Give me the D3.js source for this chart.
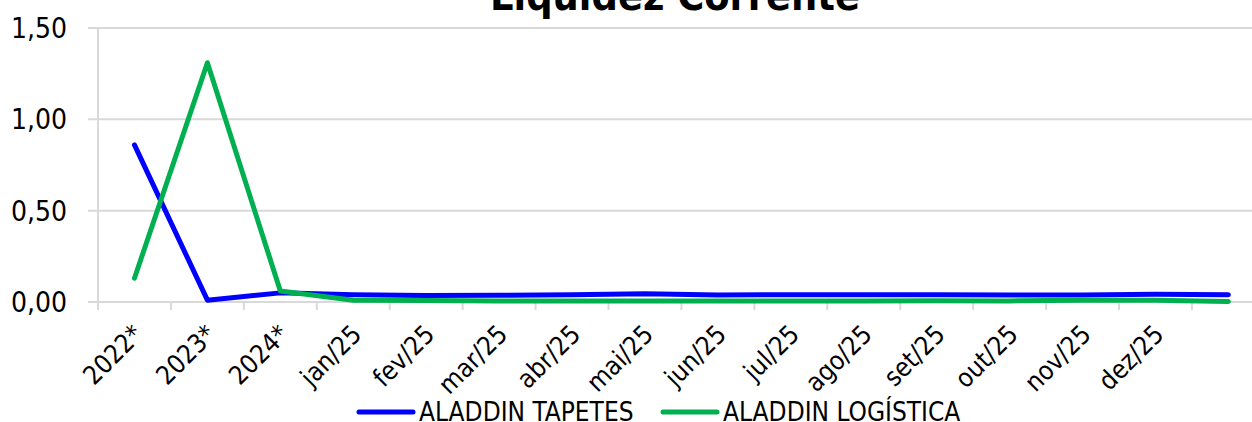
<!DOCTYPE html>
<html>
<head>
<meta charset="utf-8">
<script src="https://cdn.jsdelivr.net/npm/d3@7"></script>
<style>
  body { margin: 0; background: #fff; }
  svg { display: block; font-family: "DejaVu Sans Condensed", "DejaVu Sans", sans-serif; }
</style>
</head>
<body>
<div id="chart"></div>
<script>
// categories (the last one has no label)
const categories = ["2022*", "2023*", "2024*", "jan/25", "fev/25", "mar/25", "abr/25", "mai/25",
  "jun/25", "jul/25", "ago/25", "set/25", "out/25", "nov/25", "dez/25", ""];

// series values
const tapetes = [0.86, 0.01, 0.05, 0.04, 0.036, 0.037, 0.04, 0.045, 0.038, 0.04, 0.04, 0.04, 0.038, 0.038, 0.042, 0.04];
const logistica = [0.13, 1.31, 0.06, 0.01, 0.008, 0.006, 0.006, 0.006, 0.006, 0.006, 0.006, 0.007, 0.006, 0.01, 0.01, 0.003];

const seriesNames = ["ALADDIN TAPETES", "ALADDIN LOGÍSTICA"];
const seriesColors = ["#0000ff", "#00b050"];
const yTicks = [0, 0.5, 1.0, 1.5];

let w = 1252;
let h = 422;

let svg = d3.select("#chart").append("svg")
  .attr("width", w)
  .attr("height", h);

// scales
var x = d3.scaleBand()
  .domain(d3.range(categories.length))
  .range([98, 98 + 16 * 72.93])
  .padding(0);

var y = d3.scaleLinear()
  .domain([0, 1.5])
  .range([302, 28]);

// title (cut off at the top, like the original)
svg.append("text")
  .attr("x", 675)
  .attr("y", 10)
  .attr("text-anchor", "middle")
  .style("font-size", "41px")
  .style("font-weight", "bold")
  .text("Liquidez Corrente");

// horizontal gridlines + y labels
svg.append("g")
  .selectAll("line")
  .data(yTicks)
  .enter()
  .append("line")
  .attr("x1", 88)
  .attr("x2", w)
  .attr("y1", d => y(d))
  .attr("y2", d => y(d))
  .attr("stroke", "#d9d9d9")
  .attr("stroke-width", 2);

svg.append("g")
  .selectAll("text")
  .data(yTicks)
  .enter()
  .append("text")
  .attr("x", 67)
  .attr("y", d => y(d))
  .attr("dy", "0.36em")
  .attr("text-anchor", "end")
  .style("font-size", "28px")
  .attr("fill", "#000")
  .text(d => d3.format(".2f")(d).replace(".", ","));

// y axis line
svg.append("line")
  .attr("x1", 98).attr("x2", 98)
  .attr("y1", y(1.5)).attr("y2", 310)
  .attr("stroke", "#d9d9d9")
  .attr("stroke-width", 2);

// x tick marks at band boundaries
svg.append("g")
  .selectAll("line")
  .data(d3.range(1, categories.length + 1))
  .enter()
  .append("line")
  .attr("x1", d => x.range()[0] + d * x.bandwidth())
  .attr("x2", d => x.range()[0] + d * x.bandwidth())
  .attr("y1", y(0))
  .attr("y2", 310)
  .attr("stroke", "#d9d9d9")
  .attr("stroke-width", 2);

// x labels, rotated
svg.append("g")
  .selectAll("text")
  .data(categories)
  .enter()
  .append("text")
  .attr("transform", (d, i) => `translate(${x(i) + x.bandwidth() / 2 - 3},${323}) rotate(-45)`)
  .attr("text-anchor", "end")
  .attr("dy", "0.7em")
  .style("font-size", "26px")
  .text(d => d);

// lines
var line = d3.line()
  .x((d, i) => x(i) + x.bandwidth() / 2)
  .y(d => y(d));

[tapetes, logistica].forEach(function(s, k) {
  svg.append("path")
    .datum(s)
    .attr("d", line)
    .attr("fill", "none")
    .attr("stroke", seriesColors[k])
    .attr("stroke-width", 5)
    .attr("stroke-linejoin", "round")
    .attr("stroke-linecap", "round");
});

// legend
var legendX = [359, 663];
var legend = svg.append("g")
  .selectAll("g")
  .data(seriesNames)
  .enter()
  .append("g")
  .attr("transform", (d, i) => `translate(${legendX[i]},412)`);

legend.append("line")
  .attr("x1", 0).attr("x2", 54)
  .attr("y1", 0).attr("y2", 0)
  .attr("stroke", (d, i) => seriesColors[i])
  .attr("stroke-width", 5)
  .attr("stroke-linecap", "round");

legend.append("text")
  .attr("x", 60)
  .attr("dy", "0.36em")
  .style("font-size", "26px")
  .text(d => d);
</script>
</body>
</html>
